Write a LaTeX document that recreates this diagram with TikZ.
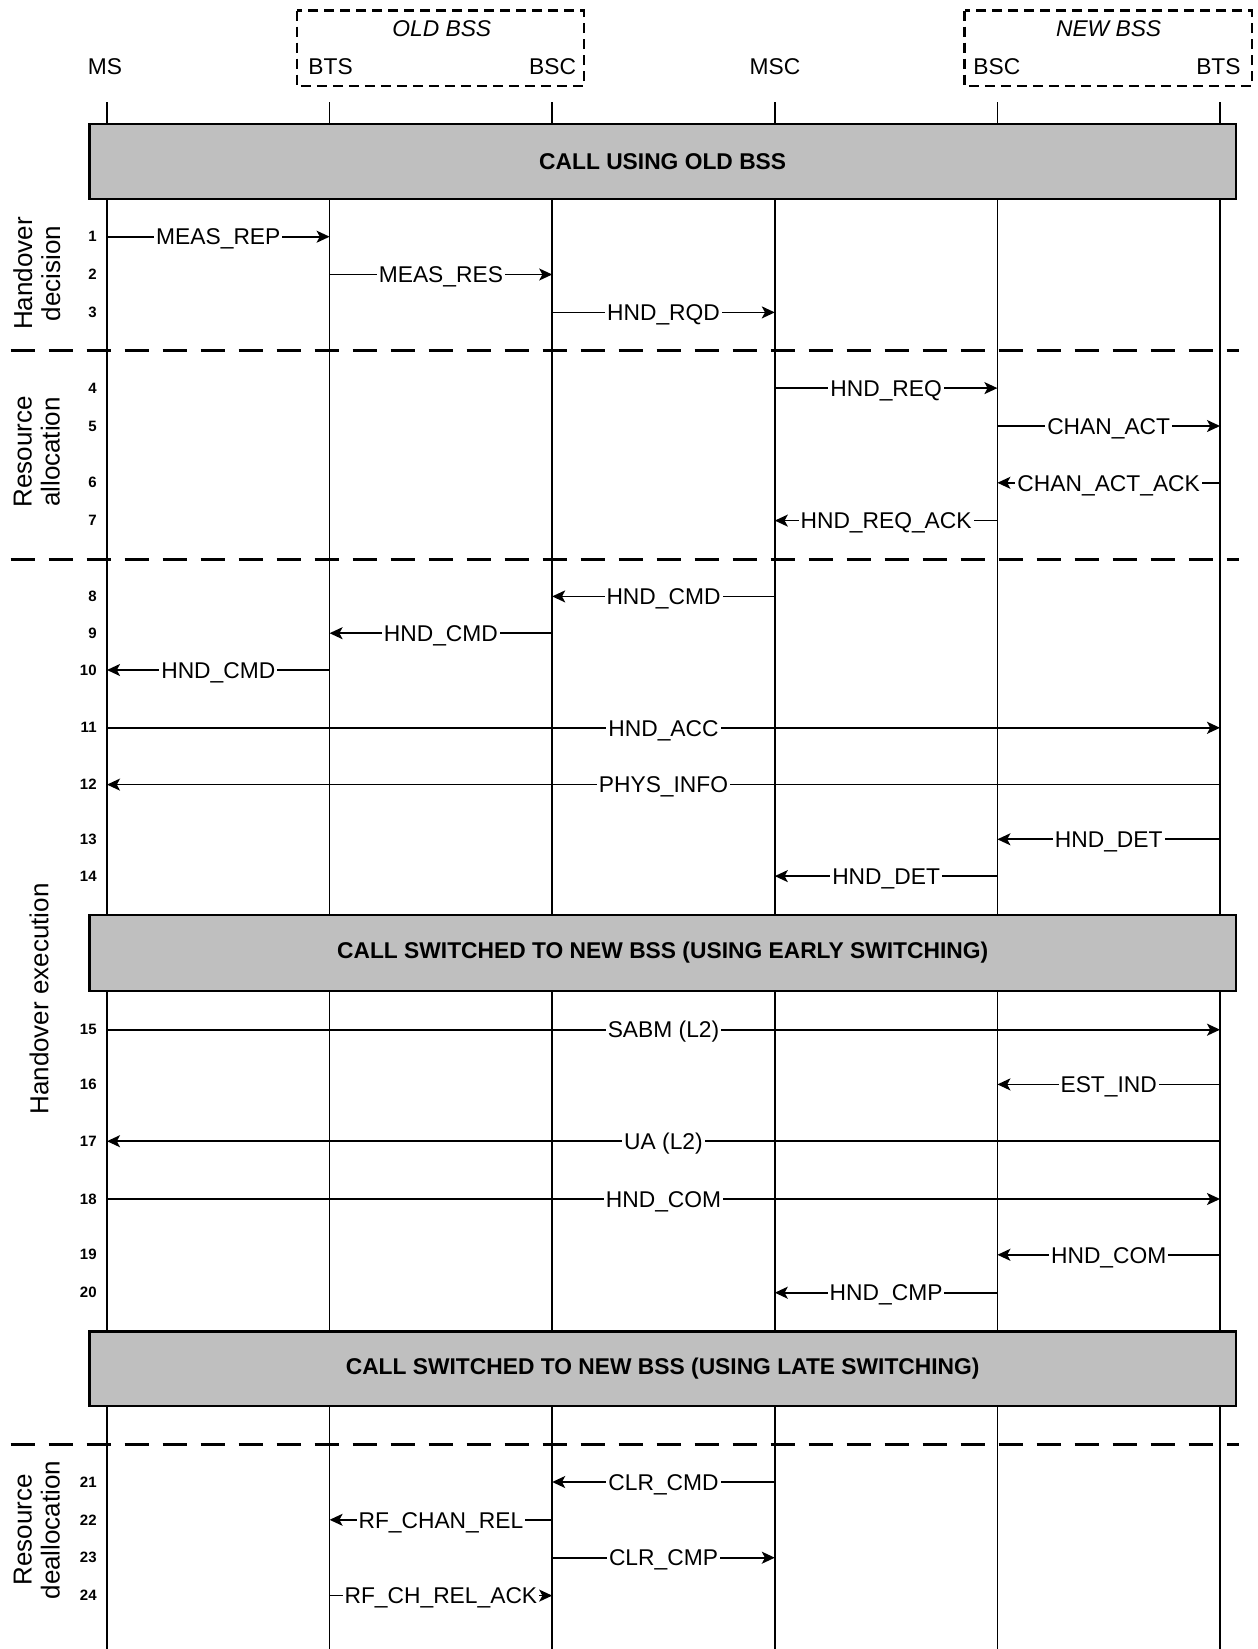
\documentclass[tikz,border=0pt]{standalone}
\usepackage{fontspec}
\setmainfont{Liberation Sans}
\usetikzlibrary{arrows.meta}

% lifeline x positions
\def\xMS{107}
\def\xBTSa{329.6}
\def\xBSCa{552.2}
\def\xMSC{774.8}
\def\xBSCb{997.4}
\def\xBTSb{1220}

% one numbered message: #1 number, #2 y, #3 from x, #4 to x, #5 label
\newcommand{\seqmsg}[5]{%
  \coordinate (m#1a) at (#3,#2);
  \coordinate (m#1b) at (#4,#2);
  \node[rownum] (n#1) at (97,#2) {#1};
  \draw[msgarrow] (m#1a) -- node[msglabel] (l#1) {#5} (m#1b);
}

\begin{document}
\begin{tikzpicture}[x=0.5pt,y=-0.5pt,
  every node/.style={font=\fontsize{11.4}{13.5}\selectfont},
  lifeline/.style={line width=0.85pt},
  msgarrow/.style={line width=0.85pt,-{Stealth[length=6.5pt,width=6pt,inset=1.6pt]}},
  msglabel/.style={fill=white,inner xsep=1pt,inner ysep=1pt,text height=8.2pt,text depth=0pt},
  rownum/.style={anchor=east,inner sep=0pt,font=\fontsize{7.5}{9}\selectfont\bfseries},
  phasebox/.style={draw,line width=1.2pt,fill=black!25,outer sep=0pt,
    font=\fontsize{11.4}{13.5}\selectfont\bfseries},
  separator/.style={line width=1.6pt,dash pattern=on 12pt off 7pt},
  bssbox/.style={line width=1.1pt,dash pattern=on 5pt off 3pt},
  phaselabel/.style={rotate=90,align=center,font=\fontsize{13}{14}\selectfont},
]
\useasboundingbox (0,0) rectangle (1258,1649);

% BSS groupings
\draw[bssbox] (296.6,10.5) rectangle (583.7,86.2);
\draw[bssbox] (964.5,10.5) rectangle (1251.6,86.2);
\node[font=\fontsize{11.4}{13.5}\selectfont\itshape] (oldbss) at (441.8,28.4) {OLD BSS};
\node[font=\fontsize{11.4}{13.5}\selectfont\itshape] (newbss) at (1108.6,28.4) {NEW BSS};

% entity names
\node (hMS) at (105,66.3) {MS};
\node[anchor=west,inner sep=0pt] (hBTSa) at (308,66.3) {BTS};
\node[anchor=east,inner sep=0pt] (hBSCa) at (576.4,66.3) {BSC};
\node (hMSC) at (775,66.3) {MSC};
\node[anchor=west,inner sep=0pt] (hBSCb) at (973,66.3) {BSC};
\node[anchor=east,inner sep=0pt] (hBTSb) at (1241,66.3) {BTS};

% lifelines
\foreach \n/\x in {ms/\xMS,btsa/\xBTSa,bsca/\xBSCa,msc/\xMSC,bscb/\xBSCb,btsb/\xBTSb}{
  \coordinate (\n-top) at (\x,102);
  \coordinate (\n-bot) at (\x,1649);
  \draw[lifeline] (\n-top) -- (\n-bot);
}

% call phases
\node[phasebox,minimum width=573.25pt,minimum height=37.35pt] (callA)
  at (662.65,161.45) {CALL USING OLD BSS};
\node[phasebox,minimum width=573.25pt,minimum height=37.9pt] (callB)
  at (662.65,952.9) {CALL SWITCHED TO NEW BSS (USING EARLY SWITCHING)};
\node[phasebox,minimum width=573.25pt,minimum height=37.3pt] (callC)
  at (662.65,1368.9) {CALL SWITCHED TO NEW BSS (USING LATE SWITCHING)};

% phase separators
\coordinate (s1a) at (10.5,350.2);  \coordinate (s1b) at (1239,350.2);
\coordinate (s2a) at (10.5,559.6);  \coordinate (s2b) at (1239,559.6);
\coordinate (s3a) at (10.5,1444.1); \coordinate (s3b) at (1239,1444.1);
\draw[separator] (s1a) -- (s1b);
\draw[separator] (s2a) -- (s2b);
\draw[separator] (s3a) -- (s3b);

% phase names
\node[phaselabel] (pDecision) at (36.8,273.5) {Handover\\decision};
\node[phaselabel] (pAlloc) at (36.8,452) {Resource\\allocation};
\node[phaselabel] (pExec) at (39,999) {Handover execution};
\node[phaselabel] (pDealloc) at (36.8,1530) {Resource\\deallocation};

% messages
\seqmsg{1}{236.7}{\xMS}{\xBTSa}{MEAS\_REP}
\seqmsg{2}{274.5}{\xBTSa}{\xBSCa}{MEAS\_RES}
\seqmsg{3}{312.4}{\xBSCa}{\xMSC}{HND\_RQD}
\seqmsg{4}{388.1}{\xMSC}{\xBSCb}{HND\_REQ}
\seqmsg{5}{426}{\xBSCb}{\xBTSb}{CHAN\_ACT}
\seqmsg{6}{482.8}{\xBTSb}{\xBSCb}{CHAN\_ACT\_ACK}
\seqmsg{7}{520.6}{\xBSCb}{\xMSC}{HND\_REQ\_ACK}
\seqmsg{8}{596.4}{\xMSC}{\xBSCa}{HND\_CMD}
\seqmsg{9}{633.2}{\xBSCa}{\xBTSa}{HND\_CMD}
\seqmsg{10}{670}{\xBTSa}{\xMS}{HND\_CMD}
\seqmsg{11}{727.8}{\xMS}{\xBTSb}{HND\_ACC}
\seqmsg{12}{784.6}{\xBTSb}{\xMS}{PHYS\_INFO}
\seqmsg{13}{839.3}{\xBTSb}{\xBSCb}{HND\_DET}
\seqmsg{14}{876.1}{\xBSCb}{\xMSC}{HND\_DET}
\seqmsg{15}{1029.7}{\xMS}{\xBTSb}{SABM (L2)}
\seqmsg{16}{1084.4}{\xBTSb}{\xBSCb}{EST\_IND}
\seqmsg{17}{1141.2}{\xBTSb}{\xMS}{UA (L2)}
\seqmsg{18}{1199}{\xMS}{\xBTSb}{HND\_COM}
\seqmsg{19}{1254.8}{\xBTSb}{\xBSCb}{HND\_COM}
\seqmsg{20}{1292.7}{\xBSCb}{\xMSC}{HND\_CMP}
\seqmsg{21}{1482}{\xMSC}{\xBSCa}{CLR\_CMD}
\seqmsg{22}{1519.8}{\xBSCa}{\xBTSa}{RF\_CHAN\_REL}
\seqmsg{23}{1557.7}{\xBSCa}{\xMSC}{CLR\_CMP}
\seqmsg{24}{1595.6}{\xBTSa}{\xBSCa}{RF\_CH\_REL\_ACK}

\end{tikzpicture}
\end{document}
